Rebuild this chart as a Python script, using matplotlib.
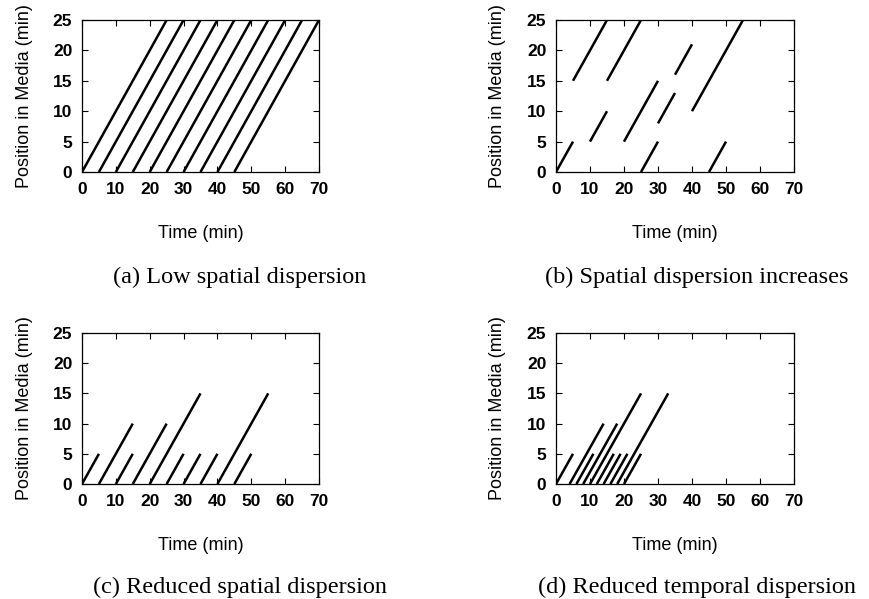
#!/usr/bin/env python3
"""Four panels of playback segments: position in media vs. time."""

import matplotlib
matplotlib.use("Agg")
import matplotlib.pyplot as plt

W, H = 869, 599

# each segment: start time, start position, length (slope 1: one minute of media per minute)
a_t0 = [0, 5, 10, 15, 20, 25, 30, 35, 40, 45]
a_p0 = [0, 0, 0, 0, 0, 0, 0, 0, 0, 0]
a_len = [25, 25, 25, 25, 25, 25, 25, 25, 25, 25]

b_t0 = [0, 5, 10, 15, 20, 25, 30, 35, 40, 45]
b_p0 = [0, 15, 5, 15, 5, 0, 8, 16, 10, 0]
b_len = [5, 10, 5, 10, 10, 5, 5, 5, 15, 5]

c_t0 = [0, 5, 10, 15, 20, 25, 30, 35, 40, 45]
c_p0 = [0, 0, 0, 0, 0, 0, 0, 0, 0, 0]
c_len = [5, 10, 5, 10, 15, 5, 5, 5, 15, 5]

d_t0 = [0, 4, 6, 8, 10, 12, 14, 16, 18, 20]
d_p0 = [0, 0, 0, 0, 0, 0, 0, 0, 0, 0]
d_len = [5, 10, 5, 10, 15, 5, 5, 5, 15, 5]

x_ticks = [0, 10, 20, 30, 40, 50, 60, 70]
y_ticks = [0, 5, 10, 15, 20, 25]

captions = [
    "(a) Low spatial dispersion",
    "(b) Spatial dispersion increases",
    "(c) Reduced spatial dispersion",
    "(d) Reduced temporal dispersion",
]

SANS = "Liberation Sans"
SERIF = "Liberation Serif"

# axes boxes in pixels: left, top, right, bottom; caption centre x, caption y
BOXES = [
    (82, 20, 319, 172, 240, 277),
    (556, 20, 794, 172, 697, 277),
    (82, 333, 319, 484, 240, 587),
    (556, 333, 794, 484, 697, 587),
]

fig = plt.figure(figsize=(W / 100, H / 100), dpi=100)

panels = [(a_t0, a_p0, a_len), (b_t0, b_p0, b_len), (c_t0, c_p0, c_len), (d_t0, d_p0, d_len)]

for (t0s, p0s, lens), (l, t, r, b, cx, cy), cap in zip(panels, BOXES, captions):
    ax = fig.add_axes([l / W, 1 - b / H, (r - l) / W, (b - t) / H])
    for t0, p0, n in zip(t0s, p0s, lens):
        ax.plot([t0, t0 + n], [p0, p0 + n], color="black", lw=1.8, solid_capstyle="butt")

    ax.set_xlim(0, 70)
    ax.set_ylim(0, 25)
    ax.set_xticks(x_ticks)
    ax.set_yticks(y_ticks)
    ax.tick_params(direction="in", top=True, right=True, length=4, width=0.8,
                   labelsize=12.5, pad=7)
    for lab in ax.get_xticklabels() + ax.get_yticklabels():
        lab.set_fontfamily(SANS)
        lab.set_fontweight("bold")
    for sp in ax.spines.values():
        sp.set_linewidth(0.9)

    # y label sits ~58 px left of the axis frame
    ax.set_ylabel("Position in Media (min)", fontsize=13, family=SANS)
    ax.yaxis.set_label_coords(-58 / (r - l), 0.5)
    ax.yaxis.label.set_va("center")
    ax.set_xlabel("Time (min)", fontsize=13, family=SANS)
    ax.xaxis.set_label_coords(0.5, -61 / (b - t))
    ax.xaxis.label.set_va("center")

    fig.text(cx / W, 1 - cy / H, cap, ha="center", va="center", fontsize=17.5, family=SERIF)

fig.savefig("out.png", dpi=100, facecolor="white")
